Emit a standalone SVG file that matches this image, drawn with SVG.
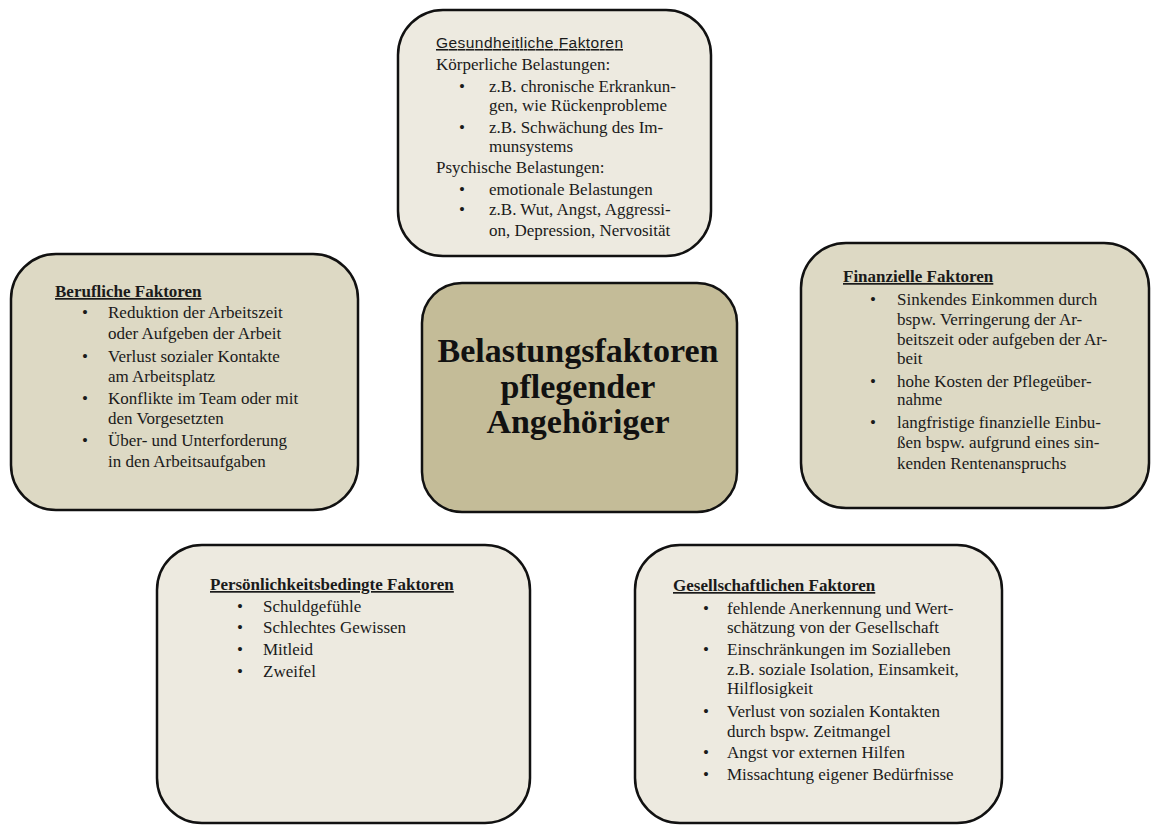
<svg xmlns="http://www.w3.org/2000/svg" width="1151" height="825" viewBox="0 0 1151 825" xml:space="preserve">
<style>
.box{stroke:#111;stroke-width:2.5}
.light{fill:#EDEAE0}
.mid{fill:#DDD9C4}
.core{fill:#C4BC98}
text{font-family:"Liberation Serif","Times New Roman",serif;font-size:17px;fill:#1a1a1a}
.h{font-weight:bold;text-decoration:underline}
.hs{font-family:"Liberation Sans",Arial,sans-serif;font-size:15.5px;text-decoration:underline}
.title{font-weight:bold;font-size:34px;text-anchor:middle;fill:#111}
</style>
<rect width="1151" height="825" fill="#ffffff"/>
<g id="connectors"/>
<g id="gesundheit">
<rect class="box light" x="398" y="10" width="313" height="246" rx="45"/>
<text class="hs" x="436" y="48" textLength="187">Gesundheitliche  Faktoren</text>
<text x="436" y="70">Körperliche  Belastungen:</text>
<text x="459" y="92">•</text><text x="489" y="92">z.B. chronische Erkrankun-</text>
<text x="489" y="111">gen, wie Rückenprobleme</text>
<text x="459" y="133">•</text><text x="489" y="133">z.B. Schwächung  des  Im-</text>
<text x="489" y="152">munsystems</text>
<text x="436" y="173">Psychische Belastungen:</text>
<text x="459" y="195">•</text><text x="489" y="195">emotionale  Belastungen</text>
<text x="459" y="215">•</text><text x="489" y="215">z.B. Wut, Angst, Aggressi-</text>
<text x="489" y="236">on, Depression,  Nervosität</text>
</g>
<g id="beruflich">
<rect class="box mid" x="11" y="254" width="347" height="256" rx="45"/>
<text class="h" x="55" y="297">Berufliche  Faktoren</text>
<text x="82" y="318">•</text><text x="108" y="318">Reduktion  der  Arbeitszeit</text>
<text x="108" y="339">oder  Aufgeben  der  Arbeit</text>
<text x="82" y="362">•</text><text x="108" y="362">Verlust sozialer  Kontakte</text>
<text x="108" y="382">am Arbeitsplatz</text>
<text x="82" y="404">•</text><text x="108" y="404">Konflikte  im  Team  oder mit</text>
<text x="108" y="424">den Vorgesetzten</text>
<text x="82" y="446">•</text><text x="108" y="446">Über-  und Unterforderung</text>
<text x="108" y="467">in den  Arbeitsaufgaben</text>
</g>
<g id="zentrum">
<rect class="box core" x="422" y="283" width="315" height="229" rx="40"/>
<text class="title" x="578" y="362">Belastungsfaktoren</text>
<text class="title" x="578" y="398">pflegender</text>
<text class="title" x="578" y="433">Angehöriger</text>
</g>
<g id="finanziell">
<rect class="box mid" x="801" y="243" width="348" height="265" rx="45"/>
<text class="h" x="843" y="282">Finanzielle  Faktoren</text>
<text x="870" y="305">•</text><text x="897" y="305">Sinkendes  Einkommen  durch</text>
<text x="897" y="325">bspw. Verringerung  der  Ar-</text>
<text x="897" y="345">beitszeit  oder aufgeben  der  Ar-</text>
<text x="897" y="364">beit</text>
<text x="870" y="387">•</text><text x="897" y="387">hohe Kosten  der  Pflegeüber-</text>
<text x="897" y="405">nahme</text>
<text x="870" y="428">•</text><text x="897" y="428">langfristige  finanzielle  Einbu-</text>
<text x="897" y="448">ßen bspw. aufgrund  eines  sin-</text>
<text x="897" y="469">kenden  Rentenanspruchs</text>
</g>
<g id="persoenlich">
<rect class="box light" x="157" y="545" width="373" height="278" rx="45"/>
<text class="h" x="210" y="590">Persönlichkeitsbedingte  Faktoren</text>
<text x="237" y="612">•</text><text x="263" y="612">Schuldgefühle</text>
<text x="237" y="633">•</text><text x="263" y="633">Schlechtes  Gewissen</text>
<text x="237" y="655">•</text><text x="263" y="655">Mitleid</text>
<text x="237" y="677">•</text><text x="263" y="677">Zweifel</text>
</g>
<g id="gesellschaft">
<rect class="box light" x="635" y="545" width="367" height="278" rx="45"/>
<text class="h" x="673" y="591">Gesellschaftlichen  Faktoren</text>
<text x="703" y="614">•</text><text x="727" y="614">fehlende  Anerkennung  und Wert-</text>
<text x="727" y="633">schätzung  von der Gesellschaft</text>
<text x="703" y="655">•</text><text x="727" y="655">Einschränkungen  im  Sozialleben</text>
<text x="727" y="675">z.B. soziale  Isolation,  Einsamkeit,</text>
<text x="727" y="694">Hilflosigkeit</text>
<text x="703" y="717">•</text><text x="727" y="717">Verlust von sozialen  Kontakten</text>
<text x="727" y="737">durch bspw. Zeitmangel</text>
<text x="703" y="758">•</text><text x="727" y="758">Angst vor externen  Hilfen</text>
<text x="703" y="780">•</text><text x="727" y="780">Missachtung  eigener  Bedürfnisse</text>
</g>
</svg>
